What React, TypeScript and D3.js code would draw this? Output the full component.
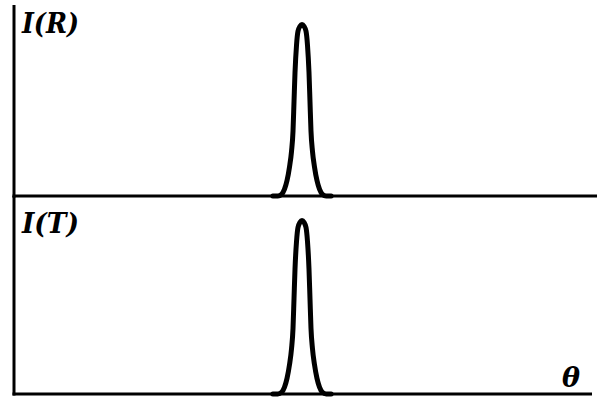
import React, { useRef, useEffect } from 'react';
import * as d3 from 'd3';

// scattering angle axis (arbitrary units) and peak position
const thetaDomain = [0, 100];
const peakCenter = 49.4;

// half-profile of the peak: offset from centre (theta units) and relative intensity
const peakOffsets = [0, 0.34, 0.69, 0.94, 1.2, 1.37, 1.54, 1.8, 2.14, 2.57, 3.0, 3.5, 4.15, 5.0];
const peakIntensity = [1.0, 0.99, 0.96, 0.88, 0.72, 0.55, 0.38, 0.26, 0.17, 0.09, 0.04, 0.01, 0, 0];

const panelLabels = ['I(R)', 'I(T)'];
const axisLabel = 'θ';

const W = 597;
const H = 405;
const FONT = '"DejaVu Serif", "Liberation Serif", serif';

const App = () => {
  const svgRef = useRef<SVGSVGElement>(null);

  useEffect(() => {
    const svg = d3.select(svgRef.current);
    svg.selectAll('*').remove();

    const x = d3.scaleLinear().domain(thetaDomain).range([14, 597]);

    // build symmetric peak from the half profile
    const left = peakOffsets.map((o, i) => ({ t: peakCenter - o, v: peakIntensity[i] })).reverse();
    const right = peakOffsets.slice(1).map((o, i) => ({ t: peakCenter + o, v: peakIntensity[i + 1] }));
    const peak = left.concat(right);

    const panels = [
      { label: panelLabels[0], base: 196, top: 24.5, axisTop: 5, lineEnd: 597, labelY: 33 },
      { label: panelLabels[1], base: 394, top: 220.5, axisTop: 196, lineEnd: 592, labelY: 233 },
    ];

    panels.forEach(p => {
      const y = d3.scaleLinear().domain([0, 1]).range([p.base, p.top]);
      const g = svg.append('g');

      // vertical axis
      g.append('line')
        .attr('x1', x(0)).attr('x2', x(0))
        .attr('y1', p.axisTop).attr('y2', p.base + 1.5)
        .attr('stroke', '#000').attr('stroke-width', 3);

      // baseline
      g.append('line')
        .attr('x1', x(0) - 1.5).attr('x2', p.lineEnd)
        .attr('y1', p.base).attr('y2', p.base)
        .attr('stroke', '#000').attr('stroke-width', 3);

      const line = d3.line<{ t: number; v: number }>()
        .x(d => x(d.t))
        .y(d => y(d.v))
        .curve(d3.curveMonotoneX);

      g.append('path')
        .attr('d', line(peak))
        .attr('fill', 'none')
        .attr('stroke', '#000')
        .attr('stroke-width', 5)
        .attr('stroke-linejoin', 'round')
        .attr('stroke-linecap', 'round');

      g.append('text')
        .attr('x', 22).attr('y', p.labelY)
        .attr('font-family', FONT)
        .attr('font-weight', 'bold')
        .attr('font-style', 'italic')
        .attr('font-size', 28)
        .attr('textLength', 57)
        .attr('lengthAdjust', 'spacingAndGlyphs')
        .text(p.label);
    });

    svg.append('text')
      .attr('x', 562).attr('y', 387)
      .attr('font-family', FONT)
      .attr('font-weight', 'bold')
      .attr('font-style', 'italic')
      .attr('font-size', 27)
      .text(axisLabel);
  }, []);

  return (
    <svg ref={svgRef} width={W} height={H}
      style={{ position: 'absolute', left: 0, top: 0, background: '#fff' }} />
  );
};

export default App;
